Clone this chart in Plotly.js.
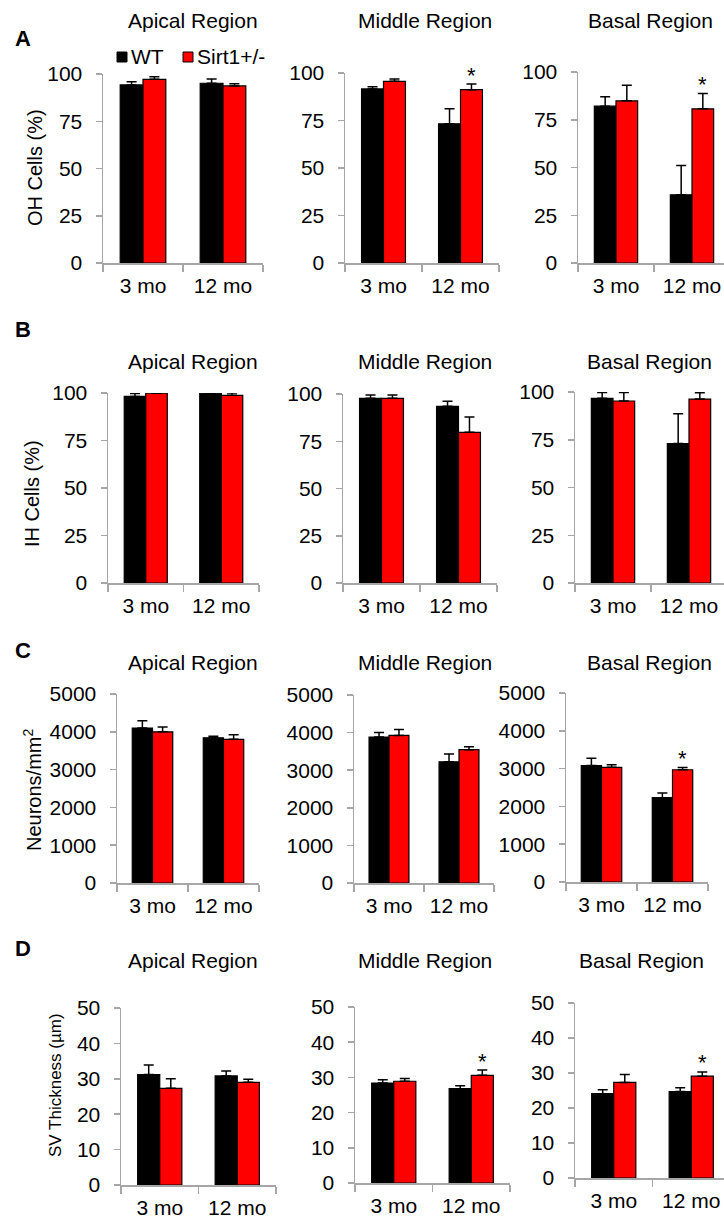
<!DOCTYPE html>
<html><head><meta charset="utf-8">
<script src="https://cdn.plot.ly/plotly-3.0.1.min.js"></script>
<style>html,body{margin:0;padding:0;background:#fff}</style>
</head><body>
<div id="chart" style="width:724px;height:1220px"></div>
<script>
// ---------- data ----------
const ages = ['3 mo', '12 mo'];
const regions = ['Apical Region', 'Middle Region', 'Basal Region'];
const groups = ['WT', 'Sirt1+/-'];
const panelLetters = ['A', 'B', 'C', 'D'];
const yTitles = ['OH Cells (%)', 'IH Cells (%)', 'Neurons/mm<sup>2</sup>', 'SV Thickness (µm)'];
const yMax = [100, 100, 5000, 50];
const yStep = [25, 25, 1000, 10];

// A: outer hair cells (%) – [apical, middle, basal] x [3 mo, 12 mo]
const ohWT      = [[94.2, 95.1], [91.6, 73.3], [82.1, 35.7]];
const ohWTErr   = [[1.7, 2.3],   [1.2, 7.9],   [4.9, 15.3]];
const ohSirt    = [[97.2, 93.7], [95.6, 91.2], [84.9, 80.7]];
const ohSirtErr = [[1.4, 1.2],   [1.2, 3.0],   [8.2, 8.0]];
const ohSig     = [[0, 0], [0, 1], [0, 1]];

// B: inner hair cells (%)
const ihWT      = [[98.2, 99.9], [97.7, 93.5], [96.7, 73.0]];
const ihWTErr   = [[1.6, 0],     [1.8, 2.6],   [3.0, 15.6]];
const ihSirt    = [[99.9, 98.8], [97.7, 79.7], [95.3, 96.3]];
const ihSirtErr = [[0, 1.2],     [1.8, 8.1],   [4.4, 3.3]];
const ihSig     = [[0, 0], [0, 0], [0, 0]];

// C: spiral ganglion neurons / mm^2
const snWT      = [[4100, 3840], [3880, 3225], [3080, 2230]];
const snWTErr   = [[195, 45],    [125, 205],   [195, 125]];
const snSirt    = [[4000, 3800], [3925, 3545], [3035, 2970]];
const snSirtErr = [[130, 120],   [160, 80],    [70, 60]];
const snSig     = [[0, 0], [0, 0], [0, 1]];

// D: stria vascularis thickness (µm)
const svWT      = [[31.2, 30.8], [28.4, 26.8], [24.1, 24.7]];
const svWTErr   = [[2.7, 1.4],   [0.9, 0.8],   [1.1, 1.1]];
const svSirt    = [[27.3, 29.0], [28.9, 30.6], [27.3, 29.1]];
const svSirtErr = [[2.7, 0.9],   [0.8, 1.5],   [2.3, 1.2]];
const svSig     = [[0, 0], [0, 1], [0, 1]];

const rows = [
  [ohWT, ohWTErr, ohSirt, ohSirtErr, ohSig],
  [ihWT, ihWTErr, ihSirt, ihSirtErr, ihSig],
  [snWT, snWTErr, snSirt, snSirtErr, snSig],
  [svWT, svWTErr, svSirt, svSirtErr, svSig]
];

// ---------- geometry (pixels) ----------
const W = 724, H = 1220;
// [xLeft, xRight, yTop, yBottom, categoryWidth]
const boxes = [
  [[103, 263, 74, 263, 80], [345, 499, 73, 263, 77], [578, 724, 72, 263, 76]],
  [[108, 259, 393, 583, 75.5], [343, 497, 394, 583, 77], [575, 724, 392, 583, 76]],
  [[117, 259, 694, 883, 71], [354, 494, 695, 883, 70], [566, 708, 693, 882, 71]],
  [[121, 276, 1008, 1185, 77.5], [355, 510, 1007, 1183, 77.5], [575, 724, 1003, 1178, 77.5]]
];
const titleY = [20, 362, 662, 960];
const titleX = [[193, 425, 650], [193, 425, 649], [193, 425, 649], [193, 425, 641]];
const letterY = [38, 330, 650, 948];
const yTitlePos = [[35, 168], [32, 494], [32, 790], [55, 1085]];
const yTitleSize = [20, 20, 20, 17];

const px = x => x / W;
const py = y => 1 - y / H;
const FONT = 'Liberation Sans, Arial, sans-serif';
const AXIS = '#a6a6a6';
const BARGAP = 0.43;
const TXT = 21;

const traces = [], annotations = [], shapes = [];
const layout = {
  width: W, height: H,
  margin: {l: 0, r: 0, t: 0, b: 0},
  paper_bgcolor: '#fff', plot_bgcolor: 'rgba(0,0,0,0)',
  showlegend: false,
  barmode: 'group', bargap: BARGAP, bargroupgap: 0,
  font: {family: FONT, color: '#000', size: TXT}
};

let n = 0;
rows.forEach((row, r) => {
  const [wt, wtE, st, stE, sig] = row;
  regions.forEach((reg, c) => {
    n += 1;
    const xa = 'x' + n, ya = 'y' + n;
    const xk = 'xaxis' + (n === 1 ? '' : n), yk = 'yaxis' + (n === 1 ? '' : n);
    const [x0, x1, yT, yB, cw] = boxes[r][c];
    const errStyle = {type: 'data', symmetric: false, arrayminus: [0, 0],
                      color: '#000', thickness: 1.5, width: 5};
    traces.push({
      type: 'bar', name: groups[0], x: ages, y: wt[c], xaxis: xa, yaxis: ya,
      marker: {color: '#000000', line: {color: '#000', width: 1.2}},
      error_y: Object.assign({array: wtE[c]}, errStyle), cliponaxis: false, hoverinfo: 'skip'
    });
    traces.push({
      type: 'bar', name: groups[1], x: ages, y: st[c], xaxis: xa, yaxis: ya,
      marker: {color: '#ff0000', line: {color: '#000', width: 1.2}},
      error_y: Object.assign({array: stE[c]}, errStyle), cliponaxis: false, hoverinfo: 'skip'
    });
    layout[xk] = {
      domain: [px(x0), px(x1)], anchor: ya, type: 'category',
      range: [-0.5, -0.5 + (x1 - x0) / cw],
      showline: true, linecolor: AXIS, linewidth: 1.5,
      ticks: 'outside', tickson: 'boundaries', ticklen: 7, tickwidth: 1.5, tickcolor: AXIS,
      tickfont: {size: TXT, family: FONT, color: '#000'}, ticklabelstandoff: 3,
      showgrid: false, zeroline: false, fixedrange: true
    };
    layout[yk] = {
      domain: [py(yB), py(yT)], anchor: xa,
      range: [0, yMax[r]], tick0: 0, dtick: yStep[r],
      showline: true, linecolor: AXIS, linewidth: 1.5,
      ticks: 'outside', ticklen: 6, tickwidth: 1.5, tickcolor: AXIS,
      tickfont: {size: TXT, family: FONT, color: '#000'}, ticklabelstandoff: 9,
      showgrid: false, zeroline: false, fixedrange: true
    };
    // region title
    annotations.push({xref: 'paper', yref: 'paper', x: px(titleX[r][c]), y: py(titleY[r]),
      xanchor: 'center', yanchor: 'middle', text: reg, showarrow: false,
      font: {size: TXT, family: FONT, color: '#000'}});
    // significance stars above the Sirt1+/- bars
    sig[c].forEach((s, i) => {
      if (!s) return;
      annotations.push({xref: xa, yref: ya, x: i + (1 - BARGAP) / 4, y: st[c][i] + stE[c][i],
        xanchor: 'center', yanchor: 'middle', yshift: 9, text: '*', showarrow: false,
        font: {size: 22, family: FONT, color: '#000'}});
    });
  });
  // panel letter
  annotations.push({xref: 'paper', yref: 'paper', x: px(13), y: py(letterY[r]),
    xanchor: 'left', yanchor: 'middle', text: '<b>' + panelLetters[r] + '</b>', showarrow: false,
    font: {size: 22, family: FONT, color: '#000'}});
  // y axis title
  annotations.push({xref: 'paper', yref: 'paper', x: px(yTitlePos[r][0]), y: py(yTitlePos[r][1]),
    xanchor: 'center', yanchor: 'middle', textangle: -90, text: yTitles[r], showarrow: false,
    font: {size: yTitleSize[r], family: FONT, color: '#000'}});
});

// legend (top of panel A)
const legendItems = [[117, '#000000', 129], [183, '#ff0000', 195]];
legendItems.forEach(([sx, col, tx], i) => {
  shapes.push({type: 'rect', xref: 'paper', yref: 'paper',
    x0: px(sx), x1: px(sx + 10), y0: py(62), y1: py(52),
    fillcolor: col, line: {color: '#000', width: 1}});
  annotations.push({xref: 'paper', yref: 'paper', x: px(tx), y: py(57),
    xanchor: 'left', yanchor: 'middle', text: groups[i], showarrow: false,
    font: {size: TXT, family: FONT, color: '#000'}});
});

layout.annotations = annotations;
layout.shapes = shapes;

Plotly.newPlot('chart', traces, layout, {staticPlot: true, displayModeBar: false});
</script>
</body></html>
